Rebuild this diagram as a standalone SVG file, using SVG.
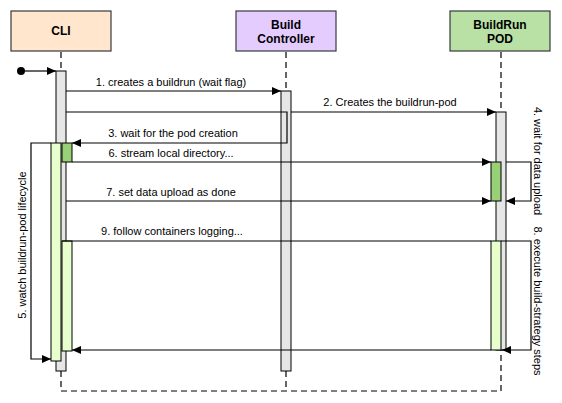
<svg xmlns="http://www.w3.org/2000/svg" width="562" height="403" viewBox="0 0 562 403">
<style>
.hdr{stroke:#36393d;stroke-width:1.2}
.ht{font-family:"Liberation Sans",Arial,sans-serif;font-size:12px;font-weight:bold;text-anchor:middle;fill:#000}
.lbl{font-family:"Liberation Sans",Arial,sans-serif;font-size:11px;text-anchor:middle;fill:#000}
.life{stroke:#000;stroke-width:1.2;stroke-dasharray:6 4;fill:none}
.bar{fill:#e6e6e6;stroke:#000;stroke-width:1}
.dark{fill:#97d077;stroke:#000;stroke-width:1}
.light{fill:#e6ffcc;stroke:#000;stroke-width:1}
.msg{stroke:#000;stroke-width:1.2;fill:none}
.arr{marker-end:url(#ah)}
</style>
<defs>
<marker id="ah" markerWidth="9" markerHeight="8" refX="9" refY="4" orient="auto" markerUnits="userSpaceOnUse">
<path d="M0,0 L9,4 L0,8 Z" fill="#000"/>
</marker>
</defs>
<g id="lifelines">
<line class="life" x1="61" y1="52" x2="61" y2="71"/>
<line class="life" x1="286" y1="52" x2="286" y2="91"/>
<line class="life" x1="501" y1="52" x2="501" y2="112"/>
<path class="life" d="M61,371 V391 H501 V350"/>
<line class="life" x1="286" y1="371" x2="286" y2="391"/>
</g>
<g id="cli">
<rect class="hdr" x="11" y="11" width="100" height="40" fill="#ffe6cc"/>
<text class="ht" x="61" y="35">CLI</text>
</g>
<g id="controller">
<rect class="hdr" x="236" y="11" width="100" height="40" fill="#e5ccff"/>
<text class="ht" x="286" y="29">Build</text>
<text class="ht" x="286" y="43">Controller</text>
</g>
<g id="pod">
<rect class="hdr" x="450" y="11" width="100" height="40" fill="#b9e0a5"/>
<text class="ht" x="500" y="29">BuildRun</text>
<text class="ht" x="500" y="43">POD</text>
</g>
<g id="bars">
<rect class="bar" x="56" y="71" width="10" height="300"/>
<rect class="bar" x="281" y="91" width="10" height="280"/>
<rect class="bar" x="496" y="112" width="10" height="238"/>
<rect class="light" x="51" y="143" width="10" height="218"/>
<rect class="dark" x="62" y="143" width="10" height="19"/>
<rect class="light" x="62" y="241" width="10" height="110"/>
<rect class="dark" x="491" y="162" width="10" height="39"/>
<rect class="light" x="491" y="241" width="10" height="109"/>
</g>
<g id="connectors">
<circle cx="21" cy="71" r="4" fill="#000"/>
<line class="msg arr" x1="25" y1="71" x2="56" y2="71"/>
<line class="msg arr" x1="66" y1="91" x2="281" y2="91"/>
<line class="msg arr" x1="291" y1="112" x2="496" y2="112"/>
<polyline class="msg arr" points="66,112 287,112 287,143 72,143"/>
<polyline class="msg arr" points="51,143 31,143 31,359 51,359"/>
<line class="msg arr" x1="72" y1="162" x2="491" y2="162"/>
<polyline class="msg arr" points="506,162 531,162 531,201 506,201"/>
<line class="msg arr" x1="66" y1="201" x2="491" y2="201"/>
<line class="msg" x1="62" y1="241" x2="491" y2="241"/>
<polyline class="msg arr" points="501,241 531,241 531,350 502,350"/>
<line class="msg arr" x1="491" y1="350" x2="72" y2="350"/>
</g>
<g id="labels">
<text class="lbl" x="171" y="86">1. creates a buildrun (wait flag)</text>
<text class="lbl" x="390" y="106">2. Creates the buildrun-pod</text>
<text class="lbl" x="173" y="137">3. wait for the pod creation</text>
<text class="lbl" x="171" y="157">6. stream local directory...</text>
<text class="lbl" x="171" y="196">7. set data upload as done</text>
<text class="lbl" x="172" y="235">9. follow containers logging...</text>
<text class="lbl" transform="translate(26,245) rotate(-90)">5. watch buildrun-pod lifecycle</text>
<text class="lbl" transform="translate(534,161) rotate(90)">4. wait for data upload</text>
<text class="lbl" transform="translate(534,301) rotate(90)">8. execute build-strategy steps</text>
</g>
</svg>
